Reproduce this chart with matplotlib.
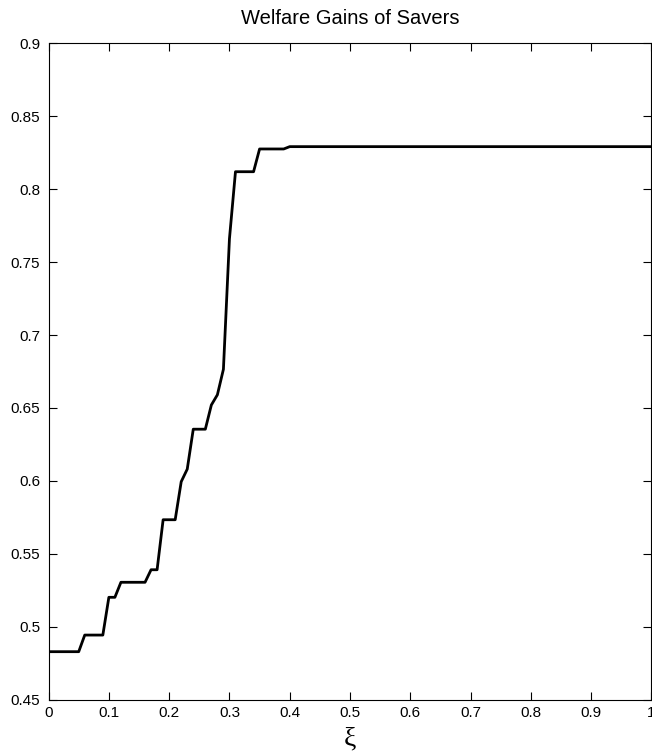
import matplotlib
matplotlib.use("Agg")
import matplotlib.pyplot as plt
import numpy as np

# xi grid and welfare gains
xi = np.round(np.arange(0, 1.0001, 0.01), 2)
gain_head = [0.4828, 0.4828, 0.4828, 0.4828, 0.4828, 0.4828,   # 0.00-0.05
             0.4942, 0.4942, 0.4942, 0.4942,                   # 0.06-0.09
             0.5201, 0.5201,                                   # 0.10-0.11
             0.5304, 0.5304, 0.5304, 0.5304, 0.5304,           # 0.12-0.16
             0.5390, 0.5390,                                   # 0.17-0.18
             0.5733, 0.5733, 0.5733,                           # 0.19-0.21
             0.5994, 0.6080,                                   # 0.22-0.23
             0.6354, 0.6354, 0.6354,                           # 0.24-0.26
             0.6520, 0.6590, 0.6765, 0.7660,                   # 0.27-0.30
             0.8120, 0.8120, 0.8120, 0.8120,                   # 0.31-0.34
             0.8276, 0.8276, 0.8276, 0.8276, 0.8276]           # 0.35-0.39
gain_tail = 0.8292
gains = np.array(gain_head + [gain_tail] * (len(xi) - len(gain_head)))

xticks = [0, 0.1, 0.2, 0.3, 0.4, 0.5, 0.6, 0.7, 0.8, 0.9, 1]
yticks = [0.45, 0.5, 0.55, 0.6, 0.65, 0.7, 0.75, 0.8, 0.85, 0.9]

plt.rcParams['font.family'] = ['Liberation Sans', 'DejaVu Sans']

fig = plt.figure(figsize=(6.52, 7.55), dpi=100)
ax = fig.add_axes([0.0745, 0.0735, 0.9247, 0.869])

ax.plot(xi, gains, color='black', linewidth=2.0)

ax.set_xlim(0, 1)
ax.set_ylim(0.45, 0.9)
ax.set_xticks(xticks)
ax.set_yticks(yticks)
ax.set_xticklabels(['%g' % t for t in xticks])
ax.set_yticklabels(['%g' % t for t in yticks])
ax.tick_params(direction='in', length=6, width=0.8, top=True, right=True,
               labelsize=11)
ax.tick_params(axis='y', pad=6)
ax.tick_params(axis='x', pad=5)
for s in ax.spines.values():
    s.set_linewidth(0.8)

ax.set_title('Welfare Gains of Savers', fontsize=14.5, pad=14)
ax.set_xlabel('ξ', fontsize=20, family=['Liberation Serif', 'DejaVu Serif'],
              labelpad=4)

fig.savefig('out.png', dpi=100)
